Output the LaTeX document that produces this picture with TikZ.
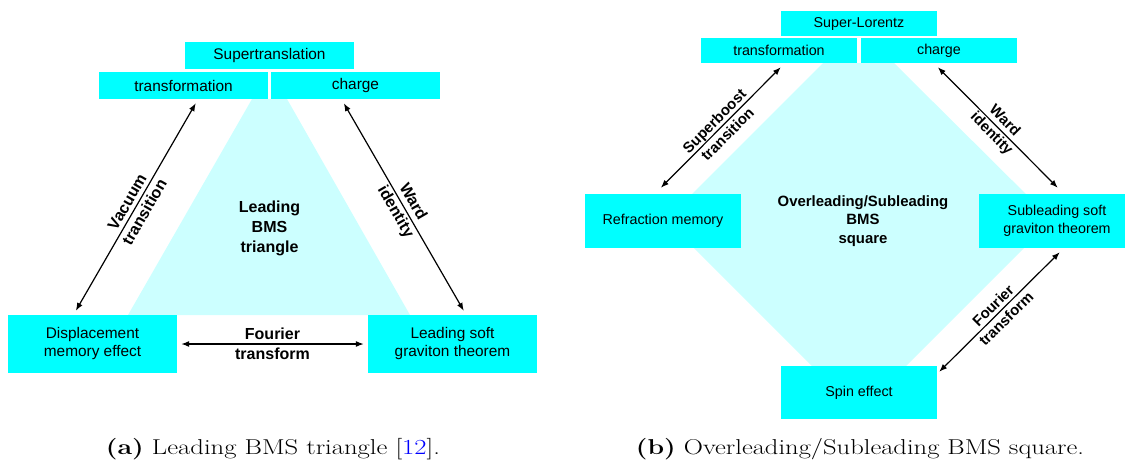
\documentclass[tikz,border=0pt]{standalone}
\usepackage{fontspec}
\usepackage{graphicx}
\usetikzlibrary{arrows.meta}
\newfontfamily\arialf{Liberation Sans}
\definecolor{boxcyan}{RGB}{0,255,255}
\definecolor{lightcyan}{RGB}{204,255,255}
\definecolor{refblue}{RGB}{0,0,255}
\begin{document}
\begin{tikzpicture}[x=1pt,y=-1pt,
  lbox/.style={fill=boxcyan, inner sep=0pt, align=center, minimum width=169pt,
    font=\arialf\fontsize{15.4}{18}\selectfont},
  rbox/.style={fill=boxcyan, inner sep=0pt, align=center, minimum width=156pt,
    font=\arialf\fontsize{14.3}{17.7}\selectfont},
  llbl/.style={inner sep=0pt, align=center, font=\arialf\bfseries\fontsize{16}{20}\selectfont},
  rlbl/.style={inner sep=0pt, align=center, font=\arialf\bfseries\fontsize{14.9}{18.5}\selectfont},
  arr/.style={{Latex[length=8pt,width=6pt]}-{Latex[length=8pt,width=6pt]}, line width=1.2pt},
  capt/.style={anchor=base, inner sep=0pt}
]
\useasboundingbox (0,0) rectangle (1125,459);
\clip (0,0) rectangle (1125,459);

% background shapes
\fill[lightcyan] (252,99) -- (287,99) -- (410,315) -- (128,315) -- cycle;
\fill[lightcyan] (823,63) -- (894,63) -- (1052,220) -- (859,413) -- (666,220) -- cycle;

% left panel boxes
\node[lbox, minimum height=27pt] (sup) at (269.5,55.5) {Supertranslation};
\node[lbox, minimum height=27pt] (ltr) at (183.5,85.5) {transformation};
\node[lbox, minimum height=27pt] (lch) at (355.5,85.5) {charge};
\node[lbox, minimum height=58pt] (disp) at (92.5,344) {Displacement\\memory effect};
\node[lbox, minimum height=58pt] (lsoft) at (452.5,344) {Leading soft\\graviton theorem};
\node[llbl] (ltri) at (269.5,228.5) {Leading\\BMS\\triangle};

% right panel boxes
\node[rbox, minimum height=25pt] (slor) at (859,23.5) {Super-Lorentz};
\node[rbox, minimum height=25pt] (rtr) at (779,50.5) {transformation};
\node[rbox, minimum height=25pt] (rch) at (939,50.5) {charge};
\node[rbox, minimum height=54pt] (refr) at (663,221) {Refraction memory};
\node[rbox, minimum height=54pt] (subl) at (1057,221) {Subleading soft\\graviton theorem};
\node[rbox, minimum height=53pt] (spin) at (859,392.5) {Spin effect};
\node[rlbl] (rsq) at (863,221) {Overleading/Subleading\\BMS\\square};

% arrow end points
\coordinate (va) at ([xshift=68pt,yshift=4pt]disp.north west);
\coordinate (vb) at ([xshift=97pt,yshift=-4pt]ltr.south west);
\coordinate (wa) at ([xshift=73pt,yshift=-4pt]lch.south west);
\coordinate (wb) at ([xshift=96pt,yshift=4pt]lsoft.north west);
\coordinate (fa) at ([xshift=4pt]disp.east);
\coordinate (fb) at ([xshift=-4pt]lsoft.west);
\coordinate (sa) at ([xshift=76pt,yshift=6pt]refr.north west);
\coordinate (sb) at ([xshift=80pt,yshift=-4pt]rtr.south west);
\coordinate (ra) at ([xshift=77pt,yshift=-4pt]rch.south west);
\coordinate (rb) at ([xshift=79pt,yshift=6pt]subl.north west);
\coordinate (ta) at ([xshift=81pt,yshift=-4pt]subl.south west);
\coordinate (tb) at ([xshift=2pt,yshift=-6pt]spin.north east);

% left panel arrows
\draw[arr] (va) -- node[llbl, sloped] {Vacuum\\transition} (vb);
\draw[arr] (wa) -- node[llbl, sloped] {Ward\\identity} (wb);
\draw[arr] (fa) -- node[llbl] {Fourier\\transform} (fb);

% right panel arrows
\draw[arr] (sa) -- node[rlbl, sloped] {Superboost\\transition} (sb);
\draw[arr] (ra) -- node[rlbl, sloped] {Ward\\identity} (rb);
\draw[arr] (tb) -- node[rlbl, sloped] {Fourier\\transform} (ta);

% captions
\node[capt] (capa) at (273,454) {\resizebox{334pt}{\height}{\fontsize{21.5}{26}\selectfont\textbf{(a)} Leading BMS triangle [\textcolor{refblue}{12}].}};
\node[capt] (capb) at (860,454) {\resizebox{448pt}{\height}{\fontsize{21.5}{26}\selectfont\textbf{(b)} Overleading/Subleading BMS square.}};
\end{tikzpicture}
\end{document}
